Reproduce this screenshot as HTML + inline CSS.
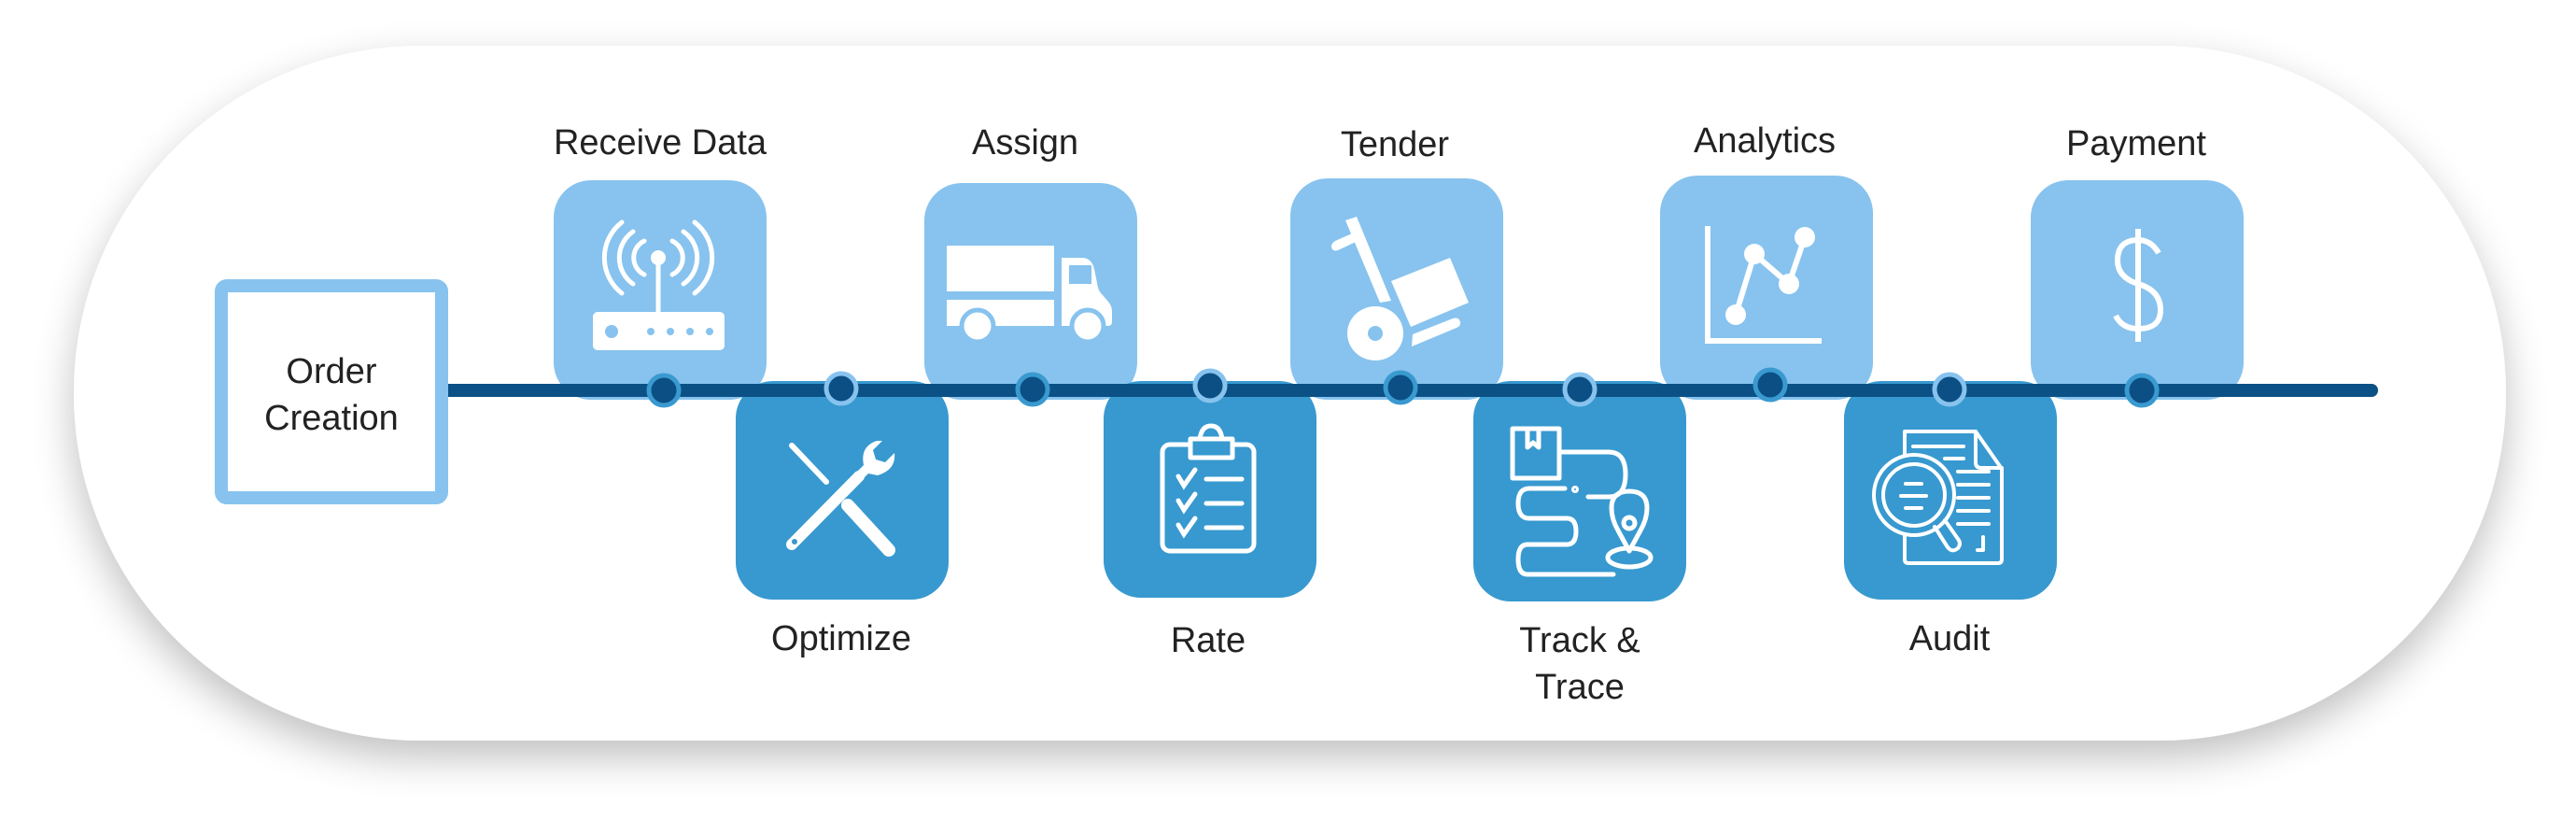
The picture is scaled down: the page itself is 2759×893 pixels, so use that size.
<!DOCTYPE html>
<html><head><meta charset="utf-8"><style>
html,body{margin:0;padding:0;background:#fff;}
svg{display:block}
text{font-family:"Liberation Sans",sans-serif;fill:#222;font-size:38px;text-anchor:middle}
</style></head><body>
<svg width="2759" height="893" viewBox="0 0 2759 893" xmlns="http://www.w3.org/2000/svg">
<defs>
<filter id="sh" x="-10%" y="-20%" width="120%" height="150%">
<feGaussianBlur in="SourceAlpha" stdDeviation="22"/>
<feOffset dx="0" dy="18" result="b"/>
<feComponentTransfer><feFuncA type="linear" slope="0.25"/></feComponentTransfer>
<feMerge><feMergeNode/><feMergeNode in="SourceGraphic"/></feMerge>
</filter>
</defs>
<rect x="79" y="49" width="2605" height="744" rx="372" fill="#fff" filter="url(#sh)"/>

<!-- top boxes -->
<g fill="#87c3ee">
<rect x="593" y="193" width="228" height="235" rx="40"/>
<rect x="990" y="196" width="228" height="232" rx="40"/>
<rect x="1382" y="191" width="228" height="237" rx="40"/>
<rect x="1778" y="188" width="228" height="240" rx="40"/>
<rect x="2175" y="193" width="228" height="235" rx="40"/>
</g>
<!-- bottom boxes -->
<g fill="#3799cf">
<rect x="788" y="408" width="228" height="234" rx="40"/>
<rect x="1182" y="408" width="228" height="232" rx="40"/>
<rect x="1578" y="408" width="228" height="236" rx="40"/>
<rect x="1975" y="408" width="228" height="234" rx="40"/>
</g>

<!-- line -->
<line x1="470" y1="418" x2="2540" y2="418" stroke="#0b5185" stroke-width="14" stroke-linecap="round"/>

<!-- order creation -->
<rect x="237" y="306" width="236" height="227" rx="6" fill="#fff" stroke="#87c3ee" stroke-width="14"/>
<text x="355" y="410">Order</text>
<text x="355" y="460">Creation</text>

<!-- dots -->
<g fill="#0b4f84" stroke-width="5">
<circle cx="711" cy="418" r="16" stroke="#3a9ad0"/>
<circle cx="901" cy="416" r="16" stroke="#87c3ee"/>
<circle cx="1106" cy="417" r="16" stroke="#3a9ad0"/>
<circle cx="1296" cy="413" r="16" stroke="#87c3ee"/>
<circle cx="1500" cy="415" r="16" stroke="#3a9ad0"/>
<circle cx="1692" cy="417" r="16" stroke="#87c3ee"/>
<circle cx="1896" cy="412" r="16" stroke="#3a9ad0"/>
<circle cx="2088" cy="417" r="16" stroke="#87c3ee"/>
<circle cx="2294" cy="418" r="16" stroke="#3a9ad0"/>
</g>

<!-- labels -->
<text x="707" y="165">Receive Data</text>
<text x="1098" y="165">Assign</text>
<text x="1494" y="167">Tender</text>
<text x="1890" y="163">Analytics</text>
<text x="2288" y="166">Payment</text>
<text x="901" y="696">Optimize</text>
<text x="1294" y="698">Rate</text>
<text x="1692" y="698">Track &amp;</text>
<text x="1692" y="748">Trace</text>
<text x="2088" y="696">Audit</text>

<!-- router -->
<g stroke="#fff" fill="none" stroke-width="5" stroke-linecap="round">
<path d="M690 258 a20 20 0 0 0 0 36"/><path d="M720 258 a20 20 0 0 1 0 36"/>
<path d="M678 248 a34 34 0 0 0 0 56"/><path d="M732 248 a34 34 0 0 1 0 56"/>
<path d="M666 238 a48 48 0 0 0 0 76"/><path d="M744 238 a48 48 0 0 1 0 76"/>
<line x1="705" y1="278" x2="705" y2="335"/>
</g>
<circle cx="705" cy="276" r="8" fill="#fff"/>
<rect x="635" y="334" width="141" height="41" rx="5" fill="#fff"/>
<g fill="#87c3ee"><circle cx="655" cy="355" r="7"/><circle cx="697" cy="355" r="4"/><circle cx="718" cy="355" r="4"/><circle cx="739" cy="355" r="4"/><circle cx="760" cy="355" r="4"/></g>

<!-- truck -->
<g fill="#fff">
<rect x="1014" y="263" width="115" height="49"/>
<rect x="1014" y="321" width="115" height="28"/>
<path d="M1137 276 h22 q10 0 13 12 l4 20 q1 4 5 8 l6 7 q4 5 4 10 v12 q0 4 -5 4 h-49z"/>
</g>
<rect x="1145" y="284" width="24" height="20" fill="#87c3ee"/>
<g fill="#fff" stroke="#87c3ee" stroke-width="5"><ellipse cx="1047" cy="349" rx="17" ry="17"/><ellipse cx="1165" cy="349" rx="17" ry="17"/></g>

<!-- hand truck -->
<g fill="#fff">
<path d="M1441 236 l12 -4 l37 90 l-12 2z"/>
<path d="M1448 250 l-18 8 q-6 4 -3 9 q3 3 8 0 l17 -8z"/>
<path d="M1490 301 l63 -25 l20 48 l-62 26z"/>
<path d="M1513 358 l43 -17 q7 -2 8 4 q1 4 -4 6 l-48 20z"/>
</g>
<ellipse cx="1473" cy="357" rx="30" ry="29" fill="#fff"/><circle cx="1473" cy="357" r="8" fill="#87c3ee"/>

<!-- chart -->
<g fill="none" stroke="#fff" stroke-width="6"><path d="M1829 242 V365 H1951"/><path d="M1859 337 L1879 272 L1916 304 L1933 254"/></g>
<g fill="#fff"><circle cx="1859" cy="337" r="11"/><circle cx="1879" cy="272" r="11"/><circle cx="1916" cy="304" r="11"/><circle cx="1933" cy="254" r="11"/></g>

<!-- dollar -->
<g fill="none" stroke="#fff" stroke-width="6"><line x1="2290" y1="245" x2="2290" y2="366"/>
<path d="M2312 271 q-8 -14 -22 -14 q-22 0 -22 22 q0 18 22 25 q24 7 24 28 q0 20 -24 20 q-17 0 -24 -14"/></g>

<!-- tools -->
<g stroke="#fff" stroke-linecap="round" fill="none">
<line x1="848" y1="477" x2="885" y2="516" stroke-width="6"/>
<line x1="908" y1="541" x2="952" y2="589" stroke-width="14"/>
<line x1="848" y1="583" x2="920" y2="510" stroke-width="12"/>
</g>
<path d="M915 508 l10 -10 q-4 -20 14 -26 l6 0 l-10 10 l3 10 l10 3 l10 -10 q2 18 -18 24 l-10 -2 l-10 10z" fill="#fff"/>
<circle cx="851" cy="580" r="3" fill="#3799cf"/>

<!-- clipboard -->
<g fill="none" stroke="#fff" stroke-width="5" stroke-linejoin="round">
<rect x="1245" y="476" width="98" height="114" rx="8"/>
<rect x="1275" y="470" width="45" height="20" fill="#3799cf"/>
<path d="M1285 470 q2 -14 12 -14 q10 0 12 14"/>
</g>
<g stroke="#fff" stroke-width="5" stroke-linecap="round" fill="none">
<path d="M1262 510 l6 10 l12 -17"/><path d="M1262 536 l6 10 l12 -17"/><path d="M1262 562 l6 10 l12 -17"/>
<line x1="1292" y1="513" x2="1330" y2="513"/><line x1="1292" y1="539" x2="1330" y2="539"/><line x1="1292" y1="565" x2="1330" y2="565"/>
</g>

<!-- track map -->
<g fill="none" stroke="#fff" stroke-width="5" stroke-linecap="round" stroke-linejoin="round">
<rect x="1620" y="459" width="50" height="53"/>
<path d="M1636 461 v18 l6 -5 l6 5 v-18"/>
<path d="M1671 484 h52 q18 0 18 24 q0 24 -18 24 h-22"/>
<path d="M1676 523 h-38 q-12 0 -12 16 q0 16 12 16 h40 q10 0 10 14 q0 14 -10 14 h-42 q-10 0 -10 16 q0 16 10 16 h92"/>
<circle cx="1687" cy="524" r="1.5"/>
<path d="M1745 590 l-12 -22 q-7 -12 -7 -24 q0 -18 19 -18 q19 0 19 18 q0 12 -7 24z"/>
<circle cx="1745" cy="560" r="6"/>
<ellipse cx="1745" cy="597" rx="23" ry="10"/>
</g>

<!-- audit -->
<g fill="none" stroke="#fff" stroke-width="4" stroke-linecap="round" stroke-linejoin="round">
<path d="M2040 462 h76 l28 40 v97 q0 4 -4 4 h-96 q-4 0 -4 -4z"/>
<path d="M2116 462 v33 q0 6 6 6 h22"/>
<line x1="2049" y1="478" x2="2103" y2="478"/>
<line x1="2083" y1="491" x2="2103" y2="491"/>
<line x1="2097" y1="505" x2="2130" y2="505"/><line x1="2097" y1="519" x2="2130" y2="519"/><line x1="2097" y1="533" x2="2130" y2="533"/><line x1="2097" y1="547" x2="2130" y2="547"/><line x1="2097" y1="561" x2="2130" y2="561"/>
<path d="M2124 575 v14 h-6"/>
<circle cx="2050" cy="530" r="43" fill="#3799cf"/><circle cx="2050" cy="530" r="33"/>
<path d="M2072 564 l14 22 q5 6 11 1 q4 -5 0 -10 l-14 -20"/>
<line x1="2041" y1="518" x2="2058" y2="518"/><line x1="2036" y1="531" x2="2063" y2="531"/><line x1="2041" y1="544" x2="2058" y2="544"/>
</g>
</svg>
</body></html>
